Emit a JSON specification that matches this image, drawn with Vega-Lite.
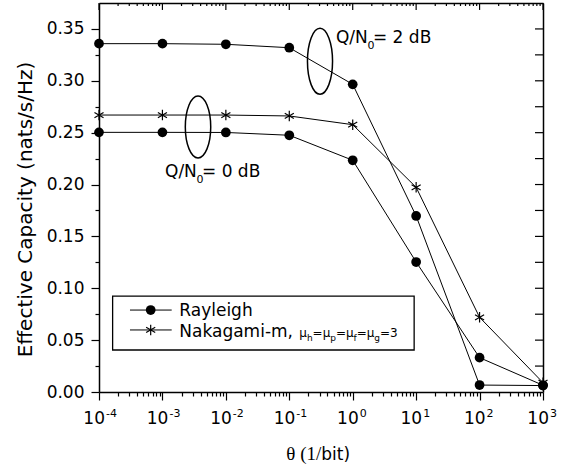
{
  "$schema": "https://vega.github.io/schema/vega-lite/v6.json",
  "width": 444,
  "height": 389,
  "autosize": {"type": "none"},
  "padding": {"left": 99, "top": 3, "right": 28, "bottom": 78},
  "background": "white",
  "config": {
    "view": {"stroke": null},
    "font": "DejaVu Sans",
    "axis": {
      "domainColor": "black",
      "domainWidth": 1.5,
      "tickColor": "black",
      "tickWidth": 1.2,
      "labelColor": "black",
      "labelFont": "DejaVu Sans",
      "titleColor": "black",
      "grid": false
    },
    "text": {"color": "black", "font": "DejaVu Sans"}
  },
  "datasets": {
    "curves": [
      {"series": "Rayleigh, Q/N0 = 2 dB", "fading": "Rayleigh", "theta": 0.0001, "capacity": 0.3358},
      {"series": "Rayleigh, Q/N0 = 2 dB", "fading": "Rayleigh", "theta": 0.001, "capacity": 0.3358},
      {"series": "Rayleigh, Q/N0 = 2 dB", "fading": "Rayleigh", "theta": 0.01, "capacity": 0.3352},
      {"series": "Rayleigh, Q/N0 = 2 dB", "fading": "Rayleigh", "theta": 0.1, "capacity": 0.3319},
      {"series": "Rayleigh, Q/N0 = 2 dB", "fading": "Rayleigh", "theta": 1, "capacity": 0.2966},
      {"series": "Rayleigh, Q/N0 = 2 dB", "fading": "Rayleigh", "theta": 10, "capacity": 0.1697},
      {"series": "Rayleigh, Q/N0 = 2 dB", "fading": "Rayleigh", "theta": 100, "capacity": 0.0067},
      {"series": "Rayleigh, Q/N0 = 2 dB", "fading": "Rayleigh", "theta": 1000, "capacity": 0.0062},
      {"series": "Rayleigh, Q/N0 = 0 dB", "fading": "Rayleigh", "theta": 0.0001, "capacity": 0.2503},
      {"series": "Rayleigh, Q/N0 = 0 dB", "fading": "Rayleigh", "theta": 0.001, "capacity": 0.2503},
      {"series": "Rayleigh, Q/N0 = 0 dB", "fading": "Rayleigh", "theta": 0.01, "capacity": 0.2502},
      {"series": "Rayleigh, Q/N0 = 0 dB", "fading": "Rayleigh", "theta": 0.1, "capacity": 0.2475},
      {"series": "Rayleigh, Q/N0 = 0 dB", "fading": "Rayleigh", "theta": 1, "capacity": 0.2234},
      {"series": "Rayleigh, Q/N0 = 0 dB", "fading": "Rayleigh", "theta": 10, "capacity": 0.1253},
      {"series": "Rayleigh, Q/N0 = 0 dB", "fading": "Rayleigh", "theta": 100, "capacity": 0.0331},
      {"series": "Rayleigh, Q/N0 = 0 dB", "fading": "Rayleigh", "theta": 1000, "capacity": 0.0065},
      {"series": "Nakagami-m, Q/N0 = 0 dB", "fading": "Nakagami-m", "theta": 0.0001, "capacity": 0.267},
      {"series": "Nakagami-m, Q/N0 = 0 dB", "fading": "Nakagami-m", "theta": 0.001, "capacity": 0.267},
      {"series": "Nakagami-m, Q/N0 = 0 dB", "fading": "Nakagami-m", "theta": 0.01, "capacity": 0.267},
      {"series": "Nakagami-m, Q/N0 = 0 dB", "fading": "Nakagami-m", "theta": 0.1, "capacity": 0.2661},
      {"series": "Nakagami-m, Q/N0 = 0 dB", "fading": "Nakagami-m", "theta": 1, "capacity": 0.2577},
      {"series": "Nakagami-m, Q/N0 = 0 dB", "fading": "Nakagami-m", "theta": 10, "capacity": 0.1973},
      {"series": "Nakagami-m, Q/N0 = 0 dB", "fading": "Nakagami-m", "theta": 100, "capacity": 0.072},
      {"series": "Nakagami-m, Q/N0 = 0 dB", "fading": "Nakagami-m", "theta": 1000, "capacity": 0.009}
    ],
    "xticks": [
      {"t": 0.0001, "e": "-4"},
      {"t": 0.001, "e": "-3"},
      {"t": 0.01, "e": "-2"},
      {"t": 0.1, "e": "-1"},
      {"t": 1, "e": "0"},
      {"t": 10, "e": "1"},
      {"t": 100, "e": "2"},
      {"t": 1000, "e": "3"}
    ],
    "xminor": [
      {"t": 0.0002}, {"t": 0.0003}, {"t": 0.0004}, {"t": 0.0005}, {"t": 0.0006}, {"t": 0.0007}, {"t": 0.0008}, {"t": 0.0009},
      {"t": 0.002}, {"t": 0.003}, {"t": 0.004}, {"t": 0.005}, {"t": 0.006}, {"t": 0.007}, {"t": 0.008}, {"t": 0.009},
      {"t": 0.02}, {"t": 0.03}, {"t": 0.04}, {"t": 0.05}, {"t": 0.06}, {"t": 0.07}, {"t": 0.08}, {"t": 0.09},
      {"t": 0.2}, {"t": 0.3}, {"t": 0.4}, {"t": 0.5}, {"t": 0.6}, {"t": 0.7}, {"t": 0.8}, {"t": 0.9},
      {"t": 2}, {"t": 3}, {"t": 4}, {"t": 5}, {"t": 6}, {"t": 7}, {"t": 8}, {"t": 9},
      {"t": 20}, {"t": 30}, {"t": 40}, {"t": 50}, {"t": 60}, {"t": 70}, {"t": 80}, {"t": 90},
      {"t": 200}, {"t": 300}, {"t": 400}, {"t": 500}, {"t": 600}, {"t": 700}, {"t": 800}, {"t": 900}
    ],
    "yticks": [
      {"v": 0.025}, {"v": 0.05}, {"v": 0.075}, {"v": 0.1}, {"v": 0.125}, {"v": 0.15}, {"v": 0.175},
      {"v": 0.2}, {"v": 0.225}, {"v": 0.25}, {"v": 0.275}, {"v": 0.3}, {"v": 0.325}, {"v": 0.35}
    ]
  },
  "layer": [
    {
      "data": {"name": "curves"},
      "mark": {"type": "point", "opacity": 0},
      "encoding": {
        "x": {
          "field": "theta",
          "type": "quantitative",
          "scale": {"type": "log", "domain": [0.0001, 1000], "nice": false},
          "axis": {"orient": "top", "title": null, "labels": false, "ticks": false}
        },
        "y": {
          "field": "capacity",
          "type": "quantitative",
          "scale": {"domain": [0, 0.375], "nice": false, "zero": false},
          "axis": {"orient": "right", "title": null, "labels": false, "ticks": false}
        }
      }
    },
    {
      "data": {"name": "curves"},
      "mark": {"type": "line", "color": "black", "strokeWidth": 1},
      "encoding": {
        "x": {
          "field": "theta",
          "type": "quantitative",
          "axis": {
            "orient": "bottom",
            "title": null,
            "labels": false,
            "values": [0.0001,0.0002,0.0003,0.0004,0.0005,0.0006,0.0007,0.0008,0.0009,0.001,0.002,0.003,0.004,0.005,0.006,0.007,0.008,0.009,0.01,0.02,0.03,0.04,0.05,0.06,0.07,0.08,0.09,0.1,0.2,0.3,0.4,0.5,0.6,0.7,0.8,0.9,1,2,3,4,5,6,7,8,9,10,20,30,40,50,60,70,80,90,100,200,300,400,500,600,700,800,900,1000],
            "tickSize": {"condition": {"test": "abs(log(datum.value)/LN10 - round(log(datum.value)/LN10)) < 0.001", "value": 8}, "value": 4}
          }
        },
        "y": {
          "field": "capacity",
          "type": "quantitative",
          "axis": {
            "orient": "left",
            "title": "Effective Capacity (nats/s/Hz)",
            "titleFont": "DejaVu Sans",
            "titleFontSize": 20,
            "titleFontWeight": "normal",
            "titleBaseline": "alphabetic",
            "titleAlign": "center",
            "titleX": -67.6,
            "titleY": 206,
            "values": [0,0.025,0.05,0.075,0.1,0.125,0.15,0.175,0.2,0.225,0.25,0.275,0.3,0.325,0.35],
            "labelExpr": "abs(datum.value*20 - round(datum.value*20)) < 0.001 ? format(datum.value, '.2f') : ''",
            "labelFontSize": 17,
            "labelPadding": 7,
            "tickSize": {"condition": {"test": "abs(datum.value*20 - round(datum.value*20)) < 0.001", "value": 8}, "value": 4}
          }
        },
        "detail": {"field": "series", "type": "nominal"}
      }
    },
    {
      "data": {"name": "xticks"},
      "mark": {"type": "rule", "color": "black", "strokeWidth": 1.2},
      "encoding": {
        "x": {"field": "t", "type": "quantitative", "axis": null},
        "y": {"datum": 0.375, "type": "quantitative", "axis": null},
        "y2": {"datum": 0.3683}
      }
    },
    {
      "data": {"name": "xminor"},
      "mark": {"type": "rule", "color": "black", "strokeWidth": 1.2},
      "encoding": {
        "x": {"field": "t", "type": "quantitative", "axis": null},
        "y": {"datum": 0.375, "type": "quantitative", "axis": null},
        "y2": {"datum": 0.3721}
      }
    },
    {
      "data": {"name": "yticks"},
      "mark": {"type": "rule", "color": "black", "strokeWidth": 1.2},
      "encoding": {
        "y": {"field": "v", "type": "quantitative", "axis": null},
        "x": {"datum": 1000, "type": "quantitative", "axis": null},
        "x2": {"datum": 748}
      }
    },
    {
      "data": {"name": "curves"},
      "transform": [{"filter": "datum.fading == 'Rayleigh'"}],
      "mark": {"type": "point", "shape": "circle", "filled": true, "color": "black", "opacity": 1, "size": 95},
      "encoding": {
        "x": {"field": "theta", "type": "quantitative", "axis": null},
        "y": {"field": "capacity", "type": "quantitative", "axis": null}
      }
    },
    {
      "data": {"name": "curves"},
      "transform": [{"filter": "datum.fading == 'Nakagami-m'"}],
      "mark": {"type": "point", "shape": "M0,-1L0,1M-0.866,-0.5L0.866,0.5M-0.866,0.5L0.866,-0.5", "filled": false, "stroke": "black", "strokeWidth": 1.2, "opacity": 1, "size": 110},
      "encoding": {
        "x": {"field": "theta", "type": "quantitative", "axis": null},
        "y": {"field": "capacity", "type": "quantitative", "axis": null}
      }
    },
    {
      "data": {"values": [{}]},
      "mark": {"type": "point", "shape": "M0,-1C0.2264,-1,0.41,-0.5523,0.41,0C0.41,0.5523,0.2264,1,0,1C-0.2264,1,-0.41,0.5523,-0.41,0C-0.41,-0.5523,-0.2264,-1,0,-1Z", "filled": false, "stroke": "black", "strokeWidth": 1.5, "opacity": 1, "size": 3844},
      "encoding": {
        "x": {"datum": 0.00364, "type": "quantitative", "axis": null},
        "y": {"datum": 0.2555, "type": "quantitative", "axis": null}
      }
    },
    {
      "data": {"values": [{}]},
      "mark": {"type": "point", "shape": "M0,-1C0.2099,-1,0.38,-0.5523,0.38,0C0.38,0.5523,0.2099,1,0,1C-0.2099,1,-0.38,0.5523,-0.38,0C-0.38,-0.5523,-0.2099,-1,0,-1Z", "filled": false, "stroke": "black", "strokeWidth": 1.5, "opacity": 1, "size": 4356},
      "encoding": {
        "x": {"datum": 0.305, "type": "quantitative", "axis": null},
        "y": {"datum": 0.3188, "type": "quantitative", "axis": null}
      }
    },
    {
      "data": {"values": [{}]},
      "layer": [
        {"mark": {"type": "text", "text": "Q/N", "align": "left", "baseline": "alphabetic", "fontSize": 17}},
        {"mark": {"type": "text", "text": "0", "align": "left", "baseline": "alphabetic", "fontSize": 11, "dx": 31.5, "dy": 6}},
        {"mark": {"type": "text", "text": "= 0 dB", "align": "left", "baseline": "alphabetic", "fontSize": 17, "dx": 37}}
      ],
      "encoding": {
        "x": {"datum": 0.001098, "type": "quantitative", "axis": null},
        "y": {"datum": 0.2075, "type": "quantitative", "axis": null}
      }
    },
    {
      "data": {"values": [{}]},
      "layer": [
        {"mark": {"type": "text", "text": "Q/N", "align": "left", "baseline": "alphabetic", "fontSize": 17}},
        {"mark": {"type": "text", "text": "0", "align": "left", "baseline": "alphabetic", "fontSize": 11, "dx": 31.5, "dy": 6}},
        {"mark": {"type": "text", "text": "= 2 dB", "align": "left", "baseline": "alphabetic", "fontSize": 17, "dx": 37}}
      ],
      "encoding": {
        "x": {"datum": 0.5445, "type": "quantitative", "axis": null},
        "y": {"datum": 0.3362, "type": "quantitative", "axis": null}
      }
    },
    {
      "data": {"values": [{}]},
      "mark": {"type": "rect", "fill": "white", "stroke": "black", "strokeWidth": 1.3},
      "encoding": {
        "x": {"datum": 0.000164, "type": "quantitative", "axis": null},
        "x2": {"datum": 9.3},
        "y": {"datum": 0.0925, "type": "quantitative", "axis": null},
        "y2": {"datum": 0.0405}
      }
    },
    {
      "data": {"values": [{}]},
      "layer": [
        {
          "mark": {"type": "rule", "color": "black", "strokeWidth": 1},
          "encoding": {
            "x": {"datum": 0.000308, "type": "quantitative", "axis": null},
            "x2": {"datum": 0.0014},
            "y": {"datum": 0.079, "type": "quantitative", "axis": null}
          }
        },
        {
          "mark": {"type": "rule", "color": "black", "strokeWidth": 1},
          "encoding": {
            "x": {"datum": 0.000308, "type": "quantitative", "axis": null},
            "x2": {"datum": 0.0014},
            "y": {"datum": 0.0598, "type": "quantitative", "axis": null}
          }
        },
        {
          "mark": {"type": "point", "shape": "circle", "filled": true, "color": "black", "opacity": 1, "size": 95},
          "encoding": {
            "x": {"datum": 0.000653, "type": "quantitative", "axis": null},
            "y": {"datum": 0.079, "type": "quantitative", "axis": null}
          }
        },
        {
          "mark": {"type": "point", "shape": "M0,-1L0,1M-0.866,-0.5L0.866,0.5M-0.866,0.5L0.866,-0.5", "filled": false, "stroke": "black", "strokeWidth": 1.2, "opacity": 1, "size": 110},
          "encoding": {
            "x": {"datum": 0.000653, "type": "quantitative", "axis": null},
            "y": {"datum": 0.0598, "type": "quantitative", "axis": null}
          }
        },
        {
          "mark": {"type": "text", "text": "Rayleigh", "align": "left", "baseline": "alphabetic", "fontSize": 17},
          "encoding": {
            "x": {"datum": 0.001845, "type": "quantitative", "axis": null},
            "y": {"datum": 0.0736, "type": "quantitative", "axis": null}
          }
        },
        {
          "layer": [
            {"mark": {"type": "text", "text": "Nakagami-m,", "align": "left", "baseline": "alphabetic", "fontSize": 17}},
            {"mark": {"type": "text", "text": "μ", "align": "left", "baseline": "alphabetic", "fontSize": 12, "dx": 120}},
            {"mark": {"type": "text", "text": "h", "align": "left", "baseline": "alphabetic", "fontSize": 9, "dx": 127.6, "dy": 4}},
            {"mark": {"type": "text", "text": "=μ", "align": "left", "baseline": "alphabetic", "fontSize": 12, "dx": 133.3}},
            {"mark": {"type": "text", "text": "p", "align": "left", "baseline": "alphabetic", "fontSize": 9, "dx": 150.9, "dy": 4}},
            {"mark": {"type": "text", "text": "=μ", "align": "left", "baseline": "alphabetic", "fontSize": 12, "dx": 156.6}},
            {"mark": {"type": "text", "text": "f", "align": "left", "baseline": "alphabetic", "fontSize": 9, "dx": 174.2, "dy": 4}},
            {"mark": {"type": "text", "text": "=μ", "align": "left", "baseline": "alphabetic", "fontSize": 12, "dx": 177.4}},
            {"mark": {"type": "text", "text": "g", "align": "left", "baseline": "alphabetic", "fontSize": 9, "dx": 195, "dy": 4}},
            {"mark": {"type": "text", "text": "=3", "align": "left", "baseline": "alphabetic", "fontSize": 12, "dx": 200.7}}
          ],
          "encoding": {
            "x": {"datum": 0.001845, "type": "quantitative", "axis": null},
            "y": {"datum": 0.0533, "type": "quantitative", "axis": null}
          }
        }
      ]
    },
    {
      "data": {"name": "xticks"},
      "layer": [
        {
          "mark": {"type": "text", "text": "10", "align": "right", "baseline": "alphabetic", "fontSize": 17, "dx": 6},
          "encoding": {
            "x": {"field": "t", "type": "quantitative", "axis": null},
            "y": {"datum": -0.0311, "type": "quantitative", "axis": null}
          }
        },
        {
          "mark": {"type": "text", "align": "left", "baseline": "alphabetic", "fontSize": 11, "dx": 7},
          "encoding": {
            "x": {"field": "t", "type": "quantitative", "axis": null},
            "y": {"datum": -0.0238, "type": "quantitative", "axis": null},
            "text": {"field": "e", "type": "nominal"}
          }
        }
      ]
    },
    {
      "data": {"values": [{}]},
      "layer": [
        {"mark": {"type": "text", "text": "θ (1/", "align": "right", "baseline": "alphabetic", "fontSize": 19, "font": "Liberation Serif"}},
        {"mark": {"type": "text", "text": "bit)", "align": "left", "baseline": "alphabetic", "fontSize": 17}}
      ],
      "encoding": {
        "x": {"datum": 0.32, "type": "quantitative", "axis": null},
        "y": {"datum": -0.0656, "type": "quantitative", "axis": null}
      }
    }
  ],
  "resolve": {"axis": {"x": "independent", "y": "independent"}}
}
